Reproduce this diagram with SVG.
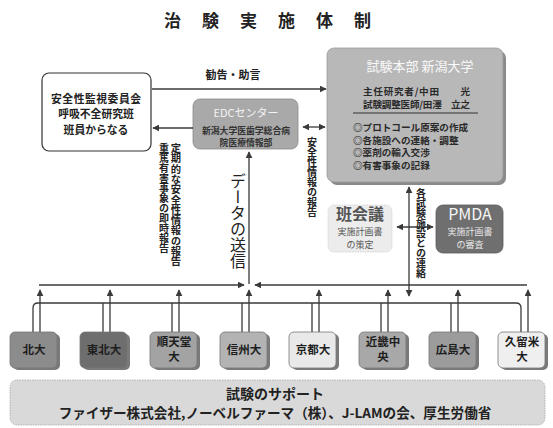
<svg xmlns="http://www.w3.org/2000/svg" width="553" height="428" viewBox="0 0 553 428">
<style>
text{font-family:"Noto Sans CJK JP","Noto Sans CJK SC",sans-serif;fill:#222}
.b{font-weight:bold}
.v{writing-mode:vertical-rl}
.ln{stroke:#3a3a3a;stroke-width:1.3;fill:none}
.node{stroke:#777;stroke-width:0.8}
.sh{fill:#7a7a7a}
.nt{font-size:11.5px;font-weight:bold;text-anchor:middle;fill:#1e1e1e}
.hq{font-size:9.6px;font-weight:bold;fill:#2a2a2a}
.lb{font-size:10.8px;font-weight:bold;text-anchor:middle}
</style>
<defs>
<marker id="ah" viewBox="0 0 10 10" refX="9" refY="5" markerWidth="7" markerHeight="7" markerUnits="userSpaceOnUse" orient="auto-start-reverse">
<path d="M0,0 L10,5 L0,10 Z" fill="#3a3a3a"/>
</marker>
</defs>
<rect width="553" height="428" fill="#fff"/>

<text x="164" y="27" class="b" font-size="17" letter-spacing="21">治験実施体制</text>

<g id="safety-committee">
<rect x="42" y="73" width="109" height="78" rx="7" fill="#fff" stroke="#333" stroke-width="1.2"/>
<text x="96" y="102.5" class="lb" textLength="90">安全性監視委員会</text>
<text x="96" y="118.4" class="lb">呼吸不全研究班</text>
<text x="96" y="134.3" class="lb">班員からなる</text>
</g>

<g id="edc-center">
<rect x="193" y="99" width="105" height="50" rx="7" fill="#a9a9a9" stroke="#8a8a8a" stroke-width="0.8"/>
<text x="246" y="117" font-size="11" text-anchor="middle" style="fill:#f4f4f4">EDCセンター</text>
<text x="246" y="134" font-size="8.8" text-anchor="middle" class="b" style="fill:#333">新潟大学医歯学総合病</text>
<text x="246" y="145.5" font-size="8.8" text-anchor="middle" class="b" style="fill:#333">院医療情報部</text>
</g>

<g id="headquarters">
<rect x="330" y="51" width="176" height="134" rx="7" fill="#8a8a8a"/>
<rect x="327" y="48" width="176" height="134" rx="7" fill="#b8b8b8" stroke="#999" stroke-width="0.8"/>
<text x="420" y="71" font-size="13" text-anchor="middle" style="fill:#fafafa">試験本部 新潟大学</text>
<text x="363" y="95" class="hq" textLength="107">主任研究者/中田　　光</text>
<text x="363" y="107.5" class="hq" textLength="107">試験調整医師/田澤　立之</text>
<line x1="353" y1="113" x2="478" y2="113" stroke="#333" stroke-width="1"/>
<text x="353" y="131" class="hq">◎プロトコール原案の作成</text>
<text x="353" y="143.5" class="hq">◎各施設への連絡・調整</text>
<text x="353" y="156" class="hq">◎薬剤の輸入交渉</text>
<text x="353" y="168.5" class="hq">◎有害事象の記録</text>
</g>

<g id="group-meeting">
<rect x="328" y="205" width="64" height="47" rx="6" fill="#ececec" stroke="#d0d0d0" stroke-width="0.8" stroke-dasharray="1.5 1"/>
<text x="360" y="220" font-size="16" class="b" text-anchor="middle" style="fill:#555">班会議</text>
<text x="360" y="235" font-size="9" text-anchor="middle" style="fill:#555">実施計画書</text>
<text x="360" y="248" font-size="9" text-anchor="middle" style="fill:#555">の策定</text>
</g>

<g id="pmda">
<rect x="436" y="205" width="67" height="48" rx="7" fill="#6f6f6f" stroke="#5a5a5a" stroke-width="0.8"/>
<text x="470" y="220" font-size="16" text-anchor="middle" style="fill:#f6f6f6">PMDA</text>
<text x="470" y="235" font-size="9" text-anchor="middle" style="fill:#e6e6e6">実施計画書</text>
<text x="470" y="248" font-size="9" text-anchor="middle" style="fill:#e6e6e6">の審査</text>
</g>

<g id="connectors">
<line x1="152" y1="89" x2="326" y2="89" class="ln" marker-end="url(#ah)"/>
<line x1="193" y1="128" x2="153" y2="128" class="ln" marker-end="url(#ah)"/>
<line x1="303" y1="127" x2="325" y2="127" class="ln" marker-start="url(#ah)" marker-end="url(#ah)"/>
<line x1="249" y1="284" x2="249" y2="152" class="ln" marker-end="url(#ah)"/>
<line x1="39" y1="285" x2="244" y2="285" class="ln" marker-end="url(#ah)"/>
<line x1="527" y1="285" x2="255" y2="285" class="ln" marker-end="url(#ah)"/>
<line x1="409" y1="187" x2="409" y2="296" class="ln" marker-start="url(#ah)" marker-end="url(#ah)"/>
<line x1="397" y1="227" x2="433" y2="227" class="ln" marker-start="url(#ah)" marker-end="url(#ah)"/>
<path d="M33,332 V308 Q33,303 38,303 H516 Q521,303 521,308 V332" class="ln"/>
<path d="M103,303 V332 M172,303 V332 M242,303 V332 M312,303 V332 M381,303 V332 M451,303 V332" class="ln"/>
<g class="ln" marker-end="url(#ah)">
<line x1="40" y1="332" x2="40" y2="290"/>
<line x1="110" y1="332" x2="110" y2="290"/>
<line x1="179" y1="332" x2="179" y2="290"/>
<line x1="249" y1="332" x2="249" y2="290"/>
<line x1="319" y1="332" x2="319" y2="290"/>
<line x1="388" y1="332" x2="388" y2="290"/>
<line x1="458" y1="332" x2="458" y2="290"/>
<line x1="528" y1="332" x2="528" y2="290"/>
</g>
</g>

<g id="connector-labels">
<text x="233" y="79" font-size="11" class="b" text-anchor="middle">勧告・助言</text>
<text x="176" y="143" font-size="10.3" class="v b">定期的な安全性情報の報告</text>
<text x="164" y="143" font-size="10" class="v b">重篤有害事象の即時報告</text>
<text x="238" y="173" font-size="16" class="v">データの送信</text>
<text x="312" y="137" font-size="10" class="v b">安全性情報の報告</text>
<text x="421" y="188" font-size="10" class="v b">各試験施設との連絡</text>
</g>

<g id="site-hokudai"><rect x="13" y="334" width="47" height="36" rx="5" class="sh"/><rect x="10" y="332" width="47" height="36" rx="5" fill="#8c8c8c" class="node"/><text x="34" y="354" class="nt">北大</text></g>
<g id="site-tohoku"><rect x="83" y="334" width="47" height="36" rx="5" class="sh"/><rect x="80" y="332" width="47" height="36" rx="5" fill="#6e6e6e" class="node"/><text x="104" y="354" class="nt">東北大</text></g>
<g id="site-juntendo"><rect x="153" y="334" width="47" height="36" rx="5" class="sh"/><rect x="150" y="332" width="47" height="36" rx="5" fill="#a3a3a3" class="node"/><text x="174" y="346" class="nt">順天堂</text><text x="174" y="361" class="nt">大</text></g>
<g id="site-shinshu"><rect x="223" y="334" width="47" height="36" rx="5" class="sh"/><rect x="220" y="332" width="47" height="36" rx="5" fill="#b3b3b3" class="node"/><text x="244" y="354" class="nt">信州大</text></g>
<g id="site-kyoto"><rect x="292" y="334" width="47" height="36" rx="5" class="sh"/><rect x="289" y="332" width="47" height="36" rx="5" fill="#e9e9e9" class="node"/><text x="313" y="354" class="nt">京都大</text></g>
<g id="site-kinki"><rect x="362" y="334" width="47" height="36" rx="5" class="sh"/><rect x="359" y="332" width="47" height="36" rx="5" fill="#a8a8a8" class="node"/><text x="383" y="346" class="nt">近畿中</text><text x="383" y="361" class="nt">央</text></g>
<g id="site-hiroshima"><rect x="432" y="334" width="47" height="36" rx="5" class="sh"/><rect x="429" y="332" width="47" height="36" rx="5" fill="#9c9c9c" class="node"/><text x="453" y="354" class="nt">広島大</text></g>
<g id="site-kurume"><rect x="501" y="334" width="47" height="36" rx="5" class="sh"/><rect x="498" y="332" width="47" height="36" rx="5" fill="#efefef" class="node"/><text x="522" y="346" class="nt">久留米</text><text x="522" y="361" class="nt">大</text></g>

<g id="support">
<rect x="10" y="380" width="535" height="45" rx="7" fill="#d9d9d9" stroke="#a8a8a8" stroke-width="0.8" stroke-dasharray="1.5 1"/>
<text x="275" y="399" font-size="14" class="b" text-anchor="middle">試験のサポート</text>
<text x="275" y="418" font-size="13.6" class="b" text-anchor="middle">ファイザー株式会社,ノーベルファーマ（株）、J-LAMの会、厚生労働省</text>
</g>
</svg>
